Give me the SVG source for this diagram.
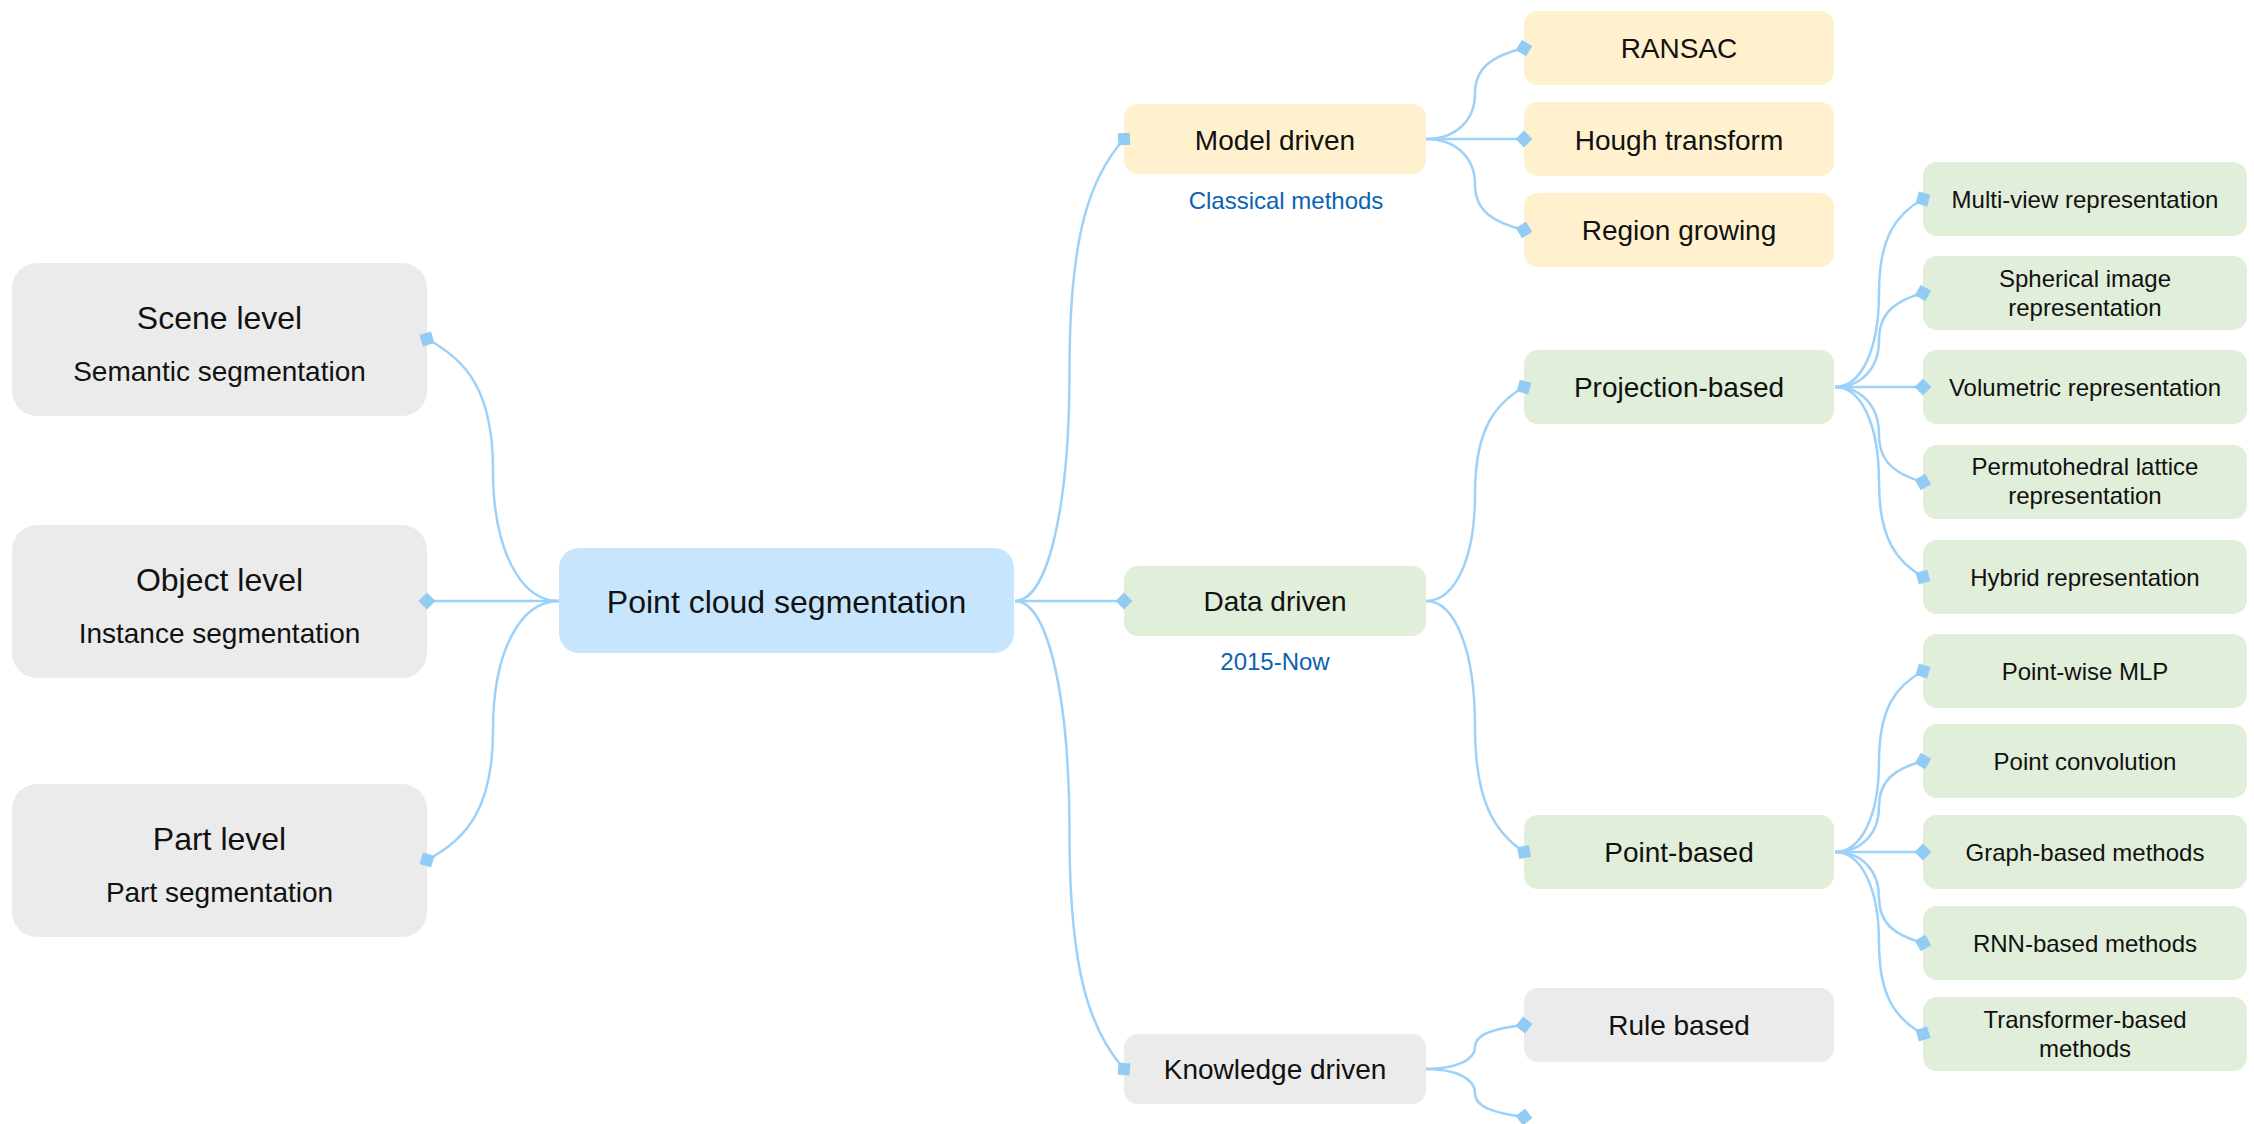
<svg xmlns="http://www.w3.org/2000/svg" width="2254" height="1124" viewBox="0 0 2254 1124">
  <style>
    text { font-family: "Liberation Sans", Arial, sans-serif; fill: #111; text-anchor: middle; }
    .t32 { font-size: 32px; }
    .t28 { font-size: 28px; }
    .t24 { font-size: 24px; }
    .note { font-size: 24px; fill: #0B63B0; }
    .grey { fill: #EBEBEB; }
    .root { fill: #C7E5FC; }
    .yellow { fill: #FFF1CD; }
    .green { fill: #E1EED9; }
    .link { fill: none; stroke: #9CD1FA; stroke-width: 2.5; marker-end: url(#diamond); }
  </style>
  <defs>
    <marker id="diamond" viewBox="-10 -10 20 20" markerWidth="20" markerHeight="20" refX="0" refY="0" markerUnits="userSpaceOnUse" orient="auto">
      <path d="M-8.5,0 L0,-8.5 L8.5,0 L0,8.5 Z" fill="#92CCF5"/>
    </marker>
  </defs>

  <rect width="2254" height="1124" fill="#FFFFFF"/>

  <!-- level nodes (left) -->
  <g id="scene-level">
    <rect class="grey" x="12" y="263" width="415" height="153" rx="25"/>
    <text class="t32" x="219.5" y="329">Scene level</text>
    <text class="t28" x="219.5" y="381">Semantic segmentation</text>
  </g>
  <g id="object-level">
    <rect class="grey" x="12" y="525" width="415" height="153" rx="25"/>
    <text class="t32" x="219.5" y="591">Object level</text>
    <text class="t28" x="219.5" y="643">Instance segmentation</text>
  </g>
  <g id="part-level">
    <rect class="grey" x="12" y="784" width="415" height="153" rx="25"/>
    <text class="t32" x="219.5" y="850">Part level</text>
    <text class="t28" x="219.5" y="902">Part segmentation</text>
  </g>

  <!-- root -->
  <g id="point-cloud-segmentation">
    <rect class="root" x="559" y="548" width="455" height="105" rx="20"/>
    <text class="t32" x="786.5" y="613">Point cloud segmentation</text>
  </g>

  <!-- method families -->
  <g id="model-driven">
    <rect class="yellow" x="1124" y="104" width="302" height="70" rx="14"/>
    <text class="t28" x="1275" y="150">Model driven</text>
    <text class="note" x="1286" y="209">Classical methods</text>
  </g>
  <g id="data-driven">
    <rect class="green" x="1124" y="566" width="302" height="70" rx="14"/>
    <text class="t28" x="1275" y="611">Data driven</text>
    <text class="note" x="1275" y="670">2015-Now</text>
  </g>
  <g id="knowledge-driven">
    <rect class="grey" x="1124" y="1034" width="302" height="70" rx="14"/>
    <text class="t28" x="1275" y="1079">Knowledge driven</text>
  </g>

  <!-- classical methods -->
  <g id="ransac">
    <rect class="yellow" x="1524" y="11" width="310" height="74" rx="14"/>
    <text class="t28" x="1679" y="58">RANSAC</text>
  </g>
  <g id="hough-transform">
    <rect class="yellow" x="1524" y="102" width="310" height="74" rx="14"/>
    <text class="t28" x="1679" y="150">Hough transform</text>
  </g>
  <g id="region-growing">
    <rect class="yellow" x="1524" y="193" width="310" height="74" rx="14"/>
    <text class="t28" x="1679" y="240">Region growing</text>
  </g>

  <!-- data-driven branches -->
  <g id="projection-based">
    <rect class="green" x="1524" y="350" width="310" height="74" rx="14"/>
    <text class="t28" x="1679" y="397">Projection-based</text>
  </g>
  <g id="point-based">
    <rect class="green" x="1524" y="815" width="310" height="74" rx="14"/>
    <text class="t28" x="1679" y="862">Point-based</text>
  </g>
  <g id="rule-based">
    <rect class="grey" x="1524" y="988" width="310" height="74" rx="14"/>
    <text class="t28" x="1679" y="1035">Rule based</text>
  </g>

  <!-- projection-based methods -->
  <g id="multi-view">
    <rect class="green" x="1923" y="162" width="324" height="74" rx="14"/>
    <text class="t24" x="2085" y="208">Multi-view representation</text>
  </g>
  <g id="spherical-image">
    <rect class="green" x="1923" y="256" width="324" height="74" rx="14"/>
    <text class="t24" x="2085" y="287">Spherical image</text>
    <text class="t24" x="2085" y="316">representation</text>
  </g>
  <g id="volumetric">
    <rect class="green" x="1923" y="350" width="324" height="74" rx="14"/>
    <text class="t24" x="2085" y="396">Volumetric representation</text>
  </g>
  <g id="permutohedral-lattice">
    <rect class="green" x="1923" y="445" width="324" height="74" rx="14"/>
    <text class="t24" x="2085" y="475">Permutohedral lattice</text>
    <text class="t24" x="2085" y="504">representation</text>
  </g>
  <g id="hybrid">
    <rect class="green" x="1923" y="540" width="324" height="74" rx="14"/>
    <text class="t24" x="2085" y="586">Hybrid representation</text>
  </g>

  <!-- point-based methods -->
  <g id="point-wise-mlp">
    <rect class="green" x="1923" y="634" width="324" height="74" rx="14"/>
    <text class="t24" x="2085" y="680">Point-wise MLP</text>
  </g>
  <g id="point-convolution">
    <rect class="green" x="1923" y="724" width="324" height="74" rx="14"/>
    <text class="t24" x="2085" y="770">Point convolution</text>
  </g>
  <g id="graph-based">
    <rect class="green" x="1923" y="815" width="324" height="74" rx="14"/>
    <text class="t24" x="2085" y="861">Graph-based methods</text>
  </g>
  <g id="rnn-based">
    <rect class="green" x="1923" y="906" width="324" height="74" rx="14"/>
    <text class="t24" x="2085" y="952">RNN-based methods</text>
  </g>
  <g id="transformer-based">
    <rect class="green" x="1923" y="997" width="324" height="74" rx="14"/>
    <text class="t24" x="2085" y="1028">Transformer-based</text>
    <text class="t24" x="2085" y="1057">methods</text>
  </g>

  <!-- connectors -->
  <g id="connectors">
    <path class="link" d="M559,601 C519.4,601 493,548 493,470 C493,391.2 466.6,359.9 427,339"/>
    <path class="link" d="M559,601 L427,601"/>
    <path class="link" d="M559,601 C519.4,601 493,652.8 493,730.5 C493,808.2 466.6,839.3 427,860"/>

    <path class="link" d="M1015,601 C1047.7,601 1069.5,508.6 1069.5,370 C1069.5,231.4 1091.3,176 1124,139"/>
    <path class="link" d="M1015,601 L1124,601"/>
    <path class="link" d="M1015,601 C1047.7,601 1069.5,694.6 1069.5,835 C1069.5,975.4 1091.3,1031.6 1124,1069"/>

    <path class="link" d="M1426,139 C1455.4,139 1475,120.8 1475,93.5 C1475,66.2 1494.6,55.3 1524,48"/>
    <path class="link" d="M1426,139 L1524,139"/>
    <path class="link" d="M1426,139 C1455.4,139 1475,157.2 1475,184.5 C1475,211.8 1494.6,222.7 1524,230"/>

    <path class="link" d="M1426,601 C1455.4,601 1475,558.2 1475,494 C1475,429.8 1494.6,404.1 1524,387"/>
    <path class="link" d="M1426,601 C1455.4,601 1475,651.2 1475,726.5 C1475,801.8 1494.6,831.9 1524,852"/>

    <path class="link" d="M1426,1069 C1455.4,1069 1475,1060.2 1475,1047 C1475,1033.8 1494.6,1028.5 1524,1025"/>
    <path class="link" d="M1426,1069 C1455.4,1069 1475,1078.6 1475,1093 C1475,1107.4 1494.6,1113.2 1524,1117"/>

    <path class="link" d="M1835,387 C1861.4,387 1879,349.4 1879,293 C1879,236.6 1896.6,214 1923,199"/>
    <path class="link" d="M1835,387 C1861.4,387 1879,368.2 1879,340 C1879,311.8 1896.6,300.5 1923,293"/>
    <path class="link" d="M1835,387 L1923,387"/>
    <path class="link" d="M1835,387 C1861.4,387 1879,406 1879,434.5 C1879,463 1896.6,474.4 1923,482"/>
    <path class="link" d="M1835,387 C1861.4,387 1879,425 1879,482 C1879,539 1896.6,561.8 1923,577"/>

    <path class="link" d="M1835,852 C1861.4,852 1879,815.8 1879,761.5 C1879,707.2 1896.6,685.5 1923,671"/>
    <path class="link" d="M1835,852 C1861.4,852 1879,833.8 1879,806.5 C1879,779.2 1896.6,768.3 1923,761"/>
    <path class="link" d="M1835,852 L1923,852"/>
    <path class="link" d="M1835,852 C1861.4,852 1879,870.2 1879,897.5 C1879,924.8 1896.6,935.7 1923,943"/>
    <path class="link" d="M1835,852 C1861.4,852 1879,888.4 1879,943 C1879,997.6 1896.6,1019.4 1923,1034"/>
  </g>
</svg>
